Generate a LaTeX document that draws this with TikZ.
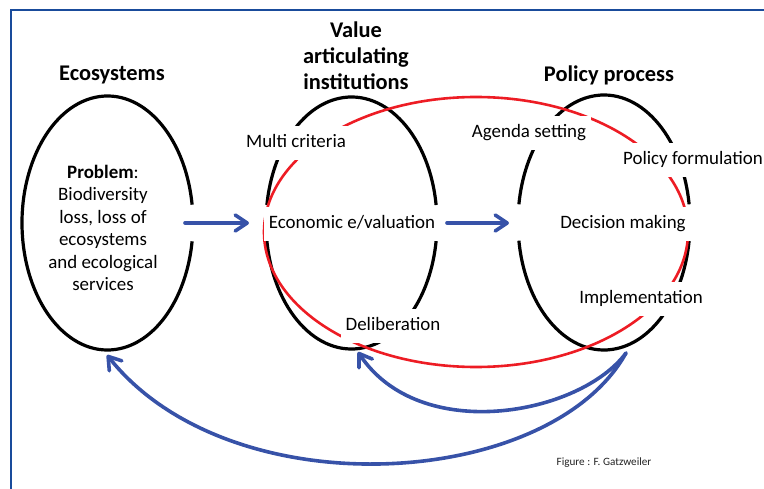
\documentclass[tikz,border=0pt]{standalone}
\usepackage{fontspec}
\setmainfont{Carlito}
\usetikzlibrary{arrows.meta}

\definecolor{flowblue}{RGB}{55,82,168}
\definecolor{loopred}{RGB}{237,28,36}
\definecolor{frameblue}{RGB}{25,75,155}
\definecolor{creditgray}{RGB}{35,35,35}

% ellipse drawn as two arcs, leaving a gap at both sides of the centre line
\newcommand\gapring[4]{%
  \draw[ring] ({#1+#3*cos(8.2)},{#2-#4*sin(8.2)})
    arc[start angle=8.2,end angle=171.8,x radius=#3bp,y radius=#4bp];
  \draw[ring] ({#1-#3*cos(8.2)},{#2+#4*sin(8.2)})
    arc[start angle=188.2,end angle=351.8,x radius=#3bp,y radius=#4bp];}

\begin{document}
\begin{tikzpicture}[x=1bp,y=-1bp,
  ring/.style={line width=3.2bp, black},
  loopline/.style={line width=2.6bp, loopred},
  flow/.style={line width=3.6bp, flowblue, line cap=round,
    -{Straight Barb[length=12bp,width=16bp,round]}},
  heading/.style={font=\bfseries\fontsize{22.5}{26}\selectfont, align=center, inner sep=0pt},
  label/.style={fill=white, font=\fontsize{19}{22.6}\selectfont,
    inner xsep=5bp, inner ysep=0pt, text height=13bp, text depth=4bp, minimum height=34bp},
  body/.style={font=\fontsize{19}{22.6}\selectfont, align=center, inner sep=0pt},
  credit/.style={font=\fontsize{11.2}{13}\selectfont, text=creditgray, inner sep=0pt},
]
\useasboundingbox (0,0) rectangle (764,489);

% frame
\draw[frameblue, line width=1.2bp] (11,489) -- (11,10) -- (764,10);

% Ecosystems ellipse: gap only on the right side
\draw[ring] ({107.5+85.5*cos(8.3)},{223-127*sin(8.3)})
  arc[start angle=8.3,end angle=351.7,x radius=85.5bp,y radius=127bp];
% value articulating institutions and policy process
\gapring{351.5}{223}{85.5}{126}
\gapring{604}{222.5}{86}{127.5}

% red loop joining institutions and policy process
\draw[loopline] (476,232) ellipse [x radius=212bp, y radius=135bp];

% headings
\node[heading] (hEco) at (112,75) {Ecosystems};
\node[heading] (hVai) at (356,56) {Value\\articulating\\institutions};
\node[heading] (hPol) at (609,75) {Policy process};

% ecosystems text
\node[body] (problem) at (103,228) {\textbf{Problem}:\\Biodiversity\\loss, loss of\\ecosystems\\and ecological\\services};

% institution labels
\node[label] (multi) at (296,143) {Multi criteria};
\node[label] (econ) at (352,224) {Economic e/valuation};
\node[label] (delib) at (393,326) {Deliberation};

% policy labels
\node[label] (agenda) at (529,133) {Agenda setting};
\node[label] (formul) at (693,160) {Policy formulation};
\node[label] (decis) at (623,224) {Decision making};
\node[label] (impl) at (641,299) {Implementation};

\node[credit] (fig) at (604,463) {Figure : F. Gatzweiler};

% connectors
\coordinate (ecoOut) at (185,223);
\coordinate (vaiIn) at (249,223);
\coordinate (vaiOut) at (447,223);
\coordinate (polIn) at (509,223);
\coordinate (polBottom) at (626,353);
\coordinate (vaiBottom) at (358,352);
\coordinate (ecoBottom) at (107,355);

\draw[flow] (ecoOut) -- (vaiIn);
\draw[flow] (vaiOut) -- (polIn);
\draw[flow] (polBottom) .. controls (580,415) and (420,445) .. (vaiBottom);
\draw[flow] (polBottom) .. controls (550,490) and (230,510) .. (ecoBottom);
\end{tikzpicture}
\end{document}
